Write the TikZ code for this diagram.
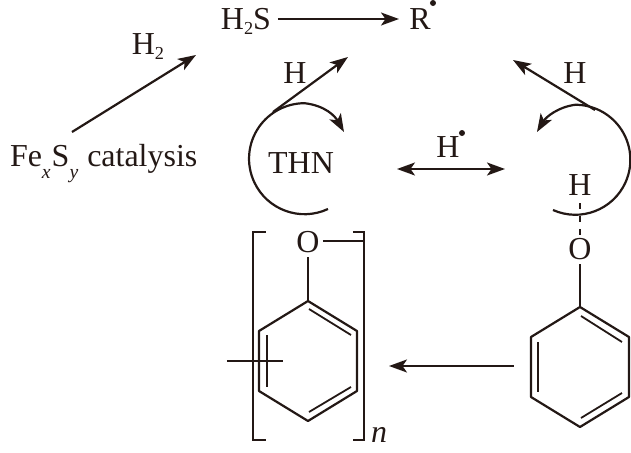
\documentclass[tikz,border=0pt]{standalone}
\usepackage{fontspec}
\setmainfont{Liberation Serif}
\usepackage{tikz}
\usepackage{tkz-euclide}
\usetikzlibrary{arrows.meta}
\definecolor{inkblack}{HTML}{231815}
\newcommand{\subtext}[1]{\lower.12cm\hbox{\fontsize{5.6}{6}\selectfont\textit{#1}}}
\newcommand{\subnum}[1]{\lower.055cm\hbox{\fontsize{5.2}{6}\selectfont #1}}
\tikzset{
  label/.style={inner sep=0pt,outer sep=0pt,anchor=base,text=inkblack,font=\fontsize{9.1}{11}\selectfont},
  bond/.style={line width=.022cm,draw=inkblack},
  inner bond/.style={line width=.018cm,draw=inkblack},
  reaction/.style={line width=.022cm,draw=inkblack,-{Stealth[length=.18cm,width=.13cm,inset=.045cm]}},
  radical/.style={circle,fill=inkblack,inner sep=0pt,minimum size=.06cm},
}

\begin{document}
\begin{tikzpicture}
  \useasboundingbox (0,0) rectangle (6.31,-4.53);

  % top row
  \node[label] (H2S) at (2.46,-.29) {H\subnum{2}S};
  \node[label] (R) at (4.20,-.29) {R};
  \node[radical] (Rdot) at (4.33,-.03) {};
  \node[label] (H2) at (1.48,-.54) {H\subnum{2}};
  \node[label,anchor=base west] (FeS) at (.10,-1.66)
    {Fe\subtext{x}\hspace{.01cm}S\subtext{y}\hspace{.09cm}catalysis};
  \tkzDefPoints{2.78/-.19/T1,3.99/-.19/T2}
  \draw[reaction] (T1) -- (T2);
  \tkzDefPoints{.72/-1.32/G1,1.96/-.55/G2}
  \draw[reaction] (G1) -- (G2);

  % left loop
  \node[label] (THN) at (3.01,-1.73) {THN};
  \node[label] (HL) at (2.95,-.83) {H};
  \tkzDefPoints{2.73/-1.12/L1,3.48/-.57/L2,3.28/-2.09/L3,3.44/-1.32/L5}
  \draw[reaction] (L1) -- (L2);
  \draw[reaction] (L3) arc[start angle=-65,end angle=-270,radius=.555]
    .. controls (3.25,-1.055) and (3.35,-1.16) .. (L5);

  % middle
  \node[label] (Hmid) at (4.48,-1.57) {H};
  \node[radical] (Hdot) at (4.62,-1.33) {};
  \tkzDefPoints{3.97/-1.69/M1,5.05/-1.69/M2}
  \draw[reaction,{Stealth[length=.18cm,width=.13cm,inset=.045cm]}-{Stealth[length=.18cm,width=.13cm,inset=.045cm]}] (M1) -- (M2);

  % right loop
  \node[label] (HR) at (5.75,-.83) {H};
  \node[label] (HO) at (5.80,-1.95) {H};
  \node[label] (OR) at (5.80,-2.59) {O};
  \tkzDefPoints{5.95/-1.10/K1,5.13/-.60/K2,5.53/-2.10/K3,5.37/-1.32/K5}
  \draw[reaction] (K1) -- (K2);
  \draw[reaction] (K3) arc[start angle=-114,end angle=90,radius=.55]
    .. controls (5.58,-1.07) and (5.46,-1.17) .. (K5);
  \draw[bond,dash pattern=on .06cm off .07cm,shorten <=.08cm,shorten >=.02cm] (HO.south) -- (OR.north);

  % right ring
  \tkzDefPoints{5.80/-3.07/A,5.31/-3.37/B,5.31/-3.97/C,5.80/-4.27/D,6.29/-3.97/E,6.29/-3.37/F}
  \tkzDrawPolygon[bond](A,B,C,D,E,F)
  \draw[bond,shorten <=.05cm] (OR.south) -- (A);
  \tkzDefPoints{5.38/-3.42/B1,5.38/-3.92/C1,5.81/-3.16/A1,6.22/-3.42/F1,5.81/-4.18/D1,6.22/-3.93/E1}
  \draw[inner bond] (B1) -- (C1);
  \draw[inner bond] (A1) -- (F1);
  \draw[inner bond] (D1) -- (E1);

  % left ring
  \node[label] (OL) at (3.08,-2.53) {O};
  \tkzDefPoints{3.08/-3.01/P,2.59/-3.31/Q,2.59/-3.91/S,3.08/-4.21/T,3.57/-3.91/U,3.57/-3.31/V}
  \tkzDrawPolygon[bond](P,Q,S,T,U,V)
  \draw[bond,shorten <=.04cm] (OL.south) -- (P);
  \tkzDefPoints{2.67/-3.35/Q1,2.67/-3.87/S1,3.09/-3.09/P1,3.51/-3.35/V1,3.09/-4.12/T1,3.51/-3.87/U1}
  \draw[inner bond] (Q1) -- (S1);
  \draw[inner bond] (P1) -- (V1);
  \draw[inner bond] (T1) -- (U1);
  \tkzDefPoints{2.27/-3.61/X1,2.83/-3.61/X2,3.23/-2.41/W0,3.64/-2.41/W}
  \draw[bond] (X1) -- (X2);
  \draw[bond] (W0) -- (W);

  % brackets
  \tkzDefPoints{2.66/-2.32/a,2.53/-2.32/b,2.53/-4.40/c,2.66/-4.40/d,3.53/-2.32/e,3.64/-2.32/f,3.64/-4.40/g,3.53/-4.40/h}
  \draw[bond] (a) -- (b) -- (c) -- (d);
  \draw[bond] (e) -- (f) -- (g) -- (h);
  \node[label] (n) at (3.79,-4.43) {\textit{n}};

  % bottom arrow
  \tkzDefPoints{5.14/-3.66/Z1,3.89/-3.66/Z2}
  \draw[reaction] (Z1) -- (Z2);
\end{tikzpicture}
\end{document}
